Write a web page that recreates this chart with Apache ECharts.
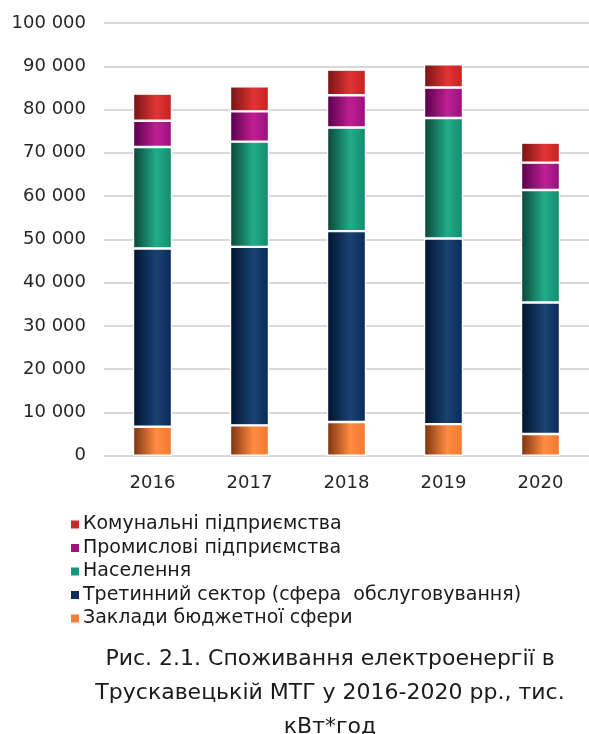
<!DOCTYPE html>
<html>
<head>
<meta charset="utf-8">
<script src="https://cdn.jsdelivr.net/npm/echarts@6/dist/echarts.min.js"></script>
<style>
html,body{margin:0;padding:0;background:#fff;}
#c{width:589px;height:734px;}
</style>
</head>
<body>
<div id="c"></div>
<script>
var years = ['2016','2017','2018','2019','2020'];
var budget = [6700, 7000, 7800, 7300, 5000];       // Заклади бюджетної сфери
var tertiary = [41200, 41250, 44100, 42900, 30400]; // Третинний сектор
var population = [23460, 24330, 23940, 27860, 26000]; // Населення
var industrial = [6040, 7000, 7460, 7020, 6330];    // Промислові підприємства
var communal = [6300, 5780, 5940, 5380, 4620];      // Комунальні підприємства
var yTicks = [0,10000,20000,30000,40000,50000,60000,70000,80000,90000,100000];

var names = {
  budget: 'Заклади бюджетної сфери',
  tertiary: 'Третинний сектор (сфера  обслуговування)',
  population: 'Населення',
  industrial: 'Промислові підприємства',
  communal: 'Комунальні підприємства'
};

function grad(dark, mid, right){
  return new echarts.graphic.LinearGradient(0,0,1,0,[
    {offset:0,color:dark},{offset:0.6,color:mid},{offset:1,color:right}
  ]);
}
var FONT = 'DejaVu Sans';
function mk(name, data, g){
  return {
    name:name, type:'bar', stack:'t', data:data, barWidth:39,
    itemStyle:{color:g, borderColor:'#ffffff', borderWidth:1.2},
    emphasis:{disabled:true}
  };
}
var chart = echarts.init(document.getElementById('c'), null, {renderer:'canvas'});
chart.setOption({
  animation:false,
  textStyle:{fontFamily:FONT},
  grid:{left:104, right:-3, top:23, bottom:278.3, containLabel:false},
  xAxis:{type:'category', data:years,
    axisLine:{show:false}, axisTick:{show:false},
    axisLabel:{fontSize:18, color:'#262626', margin:19, fontFamily:FONT}},
  yAxis:{type:'value', min:yTicks[0], max:yTicks[yTicks.length-1], interval:10000,
    axisLine:{show:false}, axisTick:{show:false},
    splitLine:{lineStyle:{color:'#d9d9d9', width:2}},
    axisLabel:{fontSize:18, color:'#262626', margin:18, fontFamily:FONT,
      formatter:function(v){return String(v).replace(/\B(?=(\d{3})+(?!\d))/g,' ');}}},
  legend:{orient:'vertical', left:64, top:510, itemGap:4.5, itemWidth:10, itemHeight:10,
    icon:'rect', textStyle:{fontSize:19, color:'#1a1a1a', fontFamily:FONT, padding:[0,0,0,-2]},
    data:[
      {name:names.communal, itemStyle:{color:'#c82828'}},
      {name:names.industrial, itemStyle:{color:'#a0127e'}},
      {name:names.population, itemStyle:{color:'#16967a'}},
      {name:names.tertiary, itemStyle:{color:'#0f2e5c'}},
      {name:names.budget, itemStyle:{color:'#ef7f3a'}}
    ]},
  title:{text:'Рис. 2.1. Споживання електроенергії в\nТрускавецькій МТГ у 2016-2020 рр., тис.\nкВт*год',
    left:325, top:637, textAlign:'center',
    textStyle:{fontSize:22, fontWeight:'normal', color:'#1a1a1a', lineHeight:34, fontFamily:FONT}},
  series:[
    mk(names.budget, budget, grad('#7a3210','#ff8c42','#ee7a30')),
    mk(names.tertiary, tertiary, grad('#00132e','#1a4272','#0a2a58')),
    mk(names.population, population, grad('#0b4536','#22ac8a','#128a6c')),
    mk(names.industrial, industrial, grad('#55004a','#c01f92','#96107e')),
    mk(names.communal, communal, grad('#741414','#e23434','#c42222'))
  ]
});
</script>
</body>
</html>
